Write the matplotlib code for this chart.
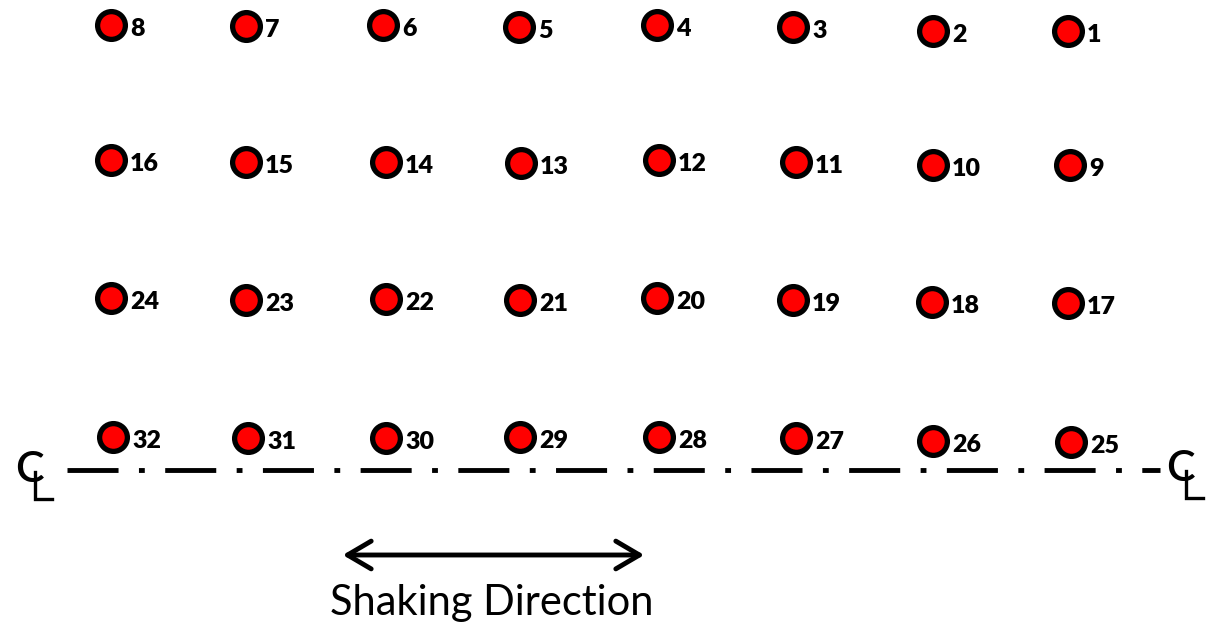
import matplotlib.pyplot as plt

# sensor positions (pixel coordinates of the drawing), numbered right to left, top to bottom
labels = [str(n) for n in range(1, 33)]
x_pos = [1068, 933, 793, 657, 519, 383, 246, 111,
         1070, 933, 796, 659, 521, 386, 246, 111,
         1068, 932, 793, 657, 520, 386, 246, 111,
         1071, 933, 796, 659, 520, 386, 248, 113]
y_pos = [31, 31, 27, 25, 27, 25, 26, 25,
         165, 165, 162, 160, 163, 162, 162, 160,
         303, 302, 300, 298, 300, 299, 300, 298,
         442, 441, 438, 437, 437, 438, 438, 437]

cl_y = 470
cl_x = [67, 1160]
arrow_x = [340, 647]
arrow_y = 555

W, H = 1214, 628
fig = plt.figure(figsize=(W / 100, H / 100), dpi=100)
ax = fig.add_axes([0, 0, 1, 1])
ax.set_xlim(0, W)
ax.set_ylim(H, 0)
ax.axis('off')

ax.scatter(x_pos, y_pos, s=400, c='#ff0000', edgecolors='black', linewidths=3.8, zorder=3)
for lab, x, y in zip(labels, x_pos, y_pos):
    ax.text(x + 19, y + 4, lab, fontsize=18, fontweight='heavy', family='Lato',
            ha='left', va='center', color='black')

# centreline
ax.plot(cl_x, [cl_y, cl_y], color='black', lw=3.5, dashes=(10.5, 4.2, 1.2, 4.2),
        dash_capstyle='butt')
for cx, cy in [(29, 470), (1180, 469)]:
    ax.text(cx, cy, 'C', fontsize=31, fontweight='semibold', family='Lato',
            ha='center', va='center')
    ax.plot([cx + 6, cx + 6, cx + 23], [cy + 2, cy + 29, cy + 29], color='black', lw=2.4,
            solid_joinstyle='miter')

# shaking direction
ax.annotate('', xy=(arrow_x[0], arrow_y), xytext=(arrow_x[1], arrow_y),
            arrowprops=dict(arrowstyle='<->,head_length=1.7,head_width=1.0', lw=3.5, color='black'))
ax.text(sum(arrow_x) / 2 - 2, 603, 'Shaking Direction', fontsize=30, family='Lato',
        ha='center', va='center')

fig.savefig('out.png', dpi=100)
